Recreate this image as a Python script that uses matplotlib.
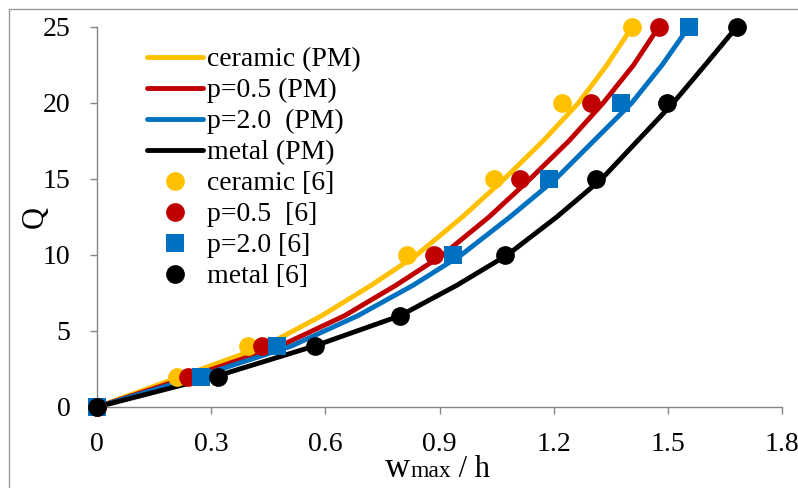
import matplotlib
matplotlib.use("Agg")
import matplotlib.pyplot as plt
from matplotlib.patches import Rectangle

plt.rcParams['font.family'] = ['Liberation Serif', 'DejaVu Serif']

# PM curves (Q levels and deflection w/h)
q_pm = [0, 2, 4, 6, 8, 10, 12.5, 15, 17.5, 20, 22.5, 25]
w_ceramic_pm = [0, 0.22, 0.44, 0.59, 0.72, 0.84, 0.96, 1.07, 1.172, 1.265, 1.340, 1.406]
w_p05_pm = [0, 0.245, 0.48, 0.65, 0.785, 0.908, 1.03, 1.138, 1.24, 1.33, 1.41, 1.476]
w_p20_pm = [0, 0.265, 0.51, 0.685, 0.83, 0.957, 1.085, 1.205, 1.305, 1.405, 1.485, 1.555]
w_metal_pm = [0, 0.31, 0.57, 0.796, 0.945, 1.078, 1.208, 1.326, 1.42, 1.514, 1.598, 1.681]

# Reference [6] points
q_ref = [0, 2, 4, 10, 15, 20, 25]
w_ceramic_ref = [0, 0.21, 0.397, 0.815, 1.043, 1.223, 1.406]
w_p05_ref = [0, 0.240, 0.434, 0.886, 1.111, 1.298, 1.477]
w_p20_ref = [0, 0.273, 0.472, 0.935, 1.188, 1.377, 1.555]
q_metal_ref = [0, 2, 4, 6, 10, 15, 20, 25]
w_metal_ref = [0, 0.318, 0.573, 0.796, 1.072, 1.311, 1.498, 1.681]

labels_pm = ["ceramic (PM)", "p=0.5 (PM)", "p=2.0  (PM)", "metal (PM)"]
labels_ref = ["ceramic [6]", "p=0.5  [6]", "p=2.0 [6]", "metal [6]"]
colors = ["#FFC000", "#C00000", "#0070C0", "#000000"]

x_ticks = [0, 0.3, 0.6, 0.9, 1.2, 1.5, 1.8]
x_ticklabels = ["0", "0.3", "0.6", "0.9", "1.2", "1.5", "1.8"]
y_ticks = [0, 5, 10, 15, 20, 25]

fig = plt.figure(figsize=(7.98, 4.88), dpi=100)
ax = fig.add_axes([97/798, 81/488, 685/798, 380/488])

pm_series = [w_ceramic_pm, w_p05_pm, w_p20_pm, w_metal_pm]
for w, c, lab in zip(pm_series, colors, labels_pm):
    ax.plot(w, q_pm, color=c, lw=3.5, label=lab, clip_on=False, zorder=2,
            solid_capstyle='round', solid_joinstyle='round')

ref_series = [(w_ceramic_ref, q_ref, 'o'), (w_p05_ref, q_ref, 'o'),
              (w_p20_ref, q_ref, 's'), (w_metal_ref, q_metal_ref, 'o')]
for (w, q, m), c, lab in zip(ref_series, colors, labels_ref):
    ms = 13.5 if m == 'o' else 12.5
    ax.plot(w, q, linestyle='none', marker=m, markersize=ms, color=c,
            markeredgewidth=0, label=lab, clip_on=False, zorder=3)

ax.set_xlim(0, 1.8)
ax.set_ylim(0, 25)
ax.set_xticks(x_ticks)
ax.set_xticklabels(x_ticklabels)
ax.set_yticks(y_ticks)
for s in ['top', 'right']:
    ax.spines[s].set_visible(False)
for s in ['left', 'bottom']:
    ax.spines[s].set_color('#868686')
    ax.spines[s].set_linewidth(1.0)
ax.tick_params(axis='both', direction='out', length=5, width=1.0,
               color='#868686', labelsize=20, labelcolor='black')
ax.tick_params(axis='x', pad=13)
ax.tick_params(axis='y', pad=14)

ax.set_ylabel("Q", fontsize=22, va='center')
ax.yaxis.set_label_coords(-(97 - 35) / 685, 0.5)

# x label: large "w", smaller "max", then " / h" on a shared baseline
renderer = fig.canvas.get_renderer()
base_y = 1 - 477 / 488
x_cur = 385 / 798
for txt, fs in [("w", 25), ("max", 17), (" / h", 22)]:
    t = fig.text(x_cur, base_y, txt, fontsize=fs, va='baseline', ha='left')
    bb = t.get_window_extent(renderer=renderer)
    x_cur = bb.x1 / fig.bbox.width

leg = ax.legend(loc='upper left', bbox_to_anchor=(50/685, 1 - 20/380), frameon=False,
                fontsize=20, handlelength=2.0, handletextpad=0.15,
                labelspacing=0.2, borderpad=0, borderaxespad=0)

fig.patches.append(Rectangle((9/798, -0.1), 1.2, 1 - 9/488 + 0.1,
                             transform=fig.transFigure, fill=False,
                             edgecolor='#9a9a9a', lw=1.0))

fig.savefig("out.png", dpi=100)
